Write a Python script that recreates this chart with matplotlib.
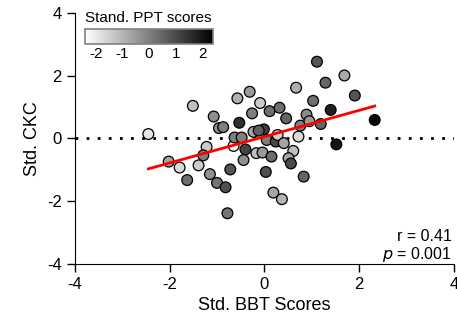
import numpy as np
import matplotlib
matplotlib.use("Agg")
import matplotlib.pyplot as plt
import matplotlib.colors as mcolors
import matplotlib.cm as cm

plt.rcParams['font.family'] = ['Liberation Sans', 'DejaVu Sans']
plt.rcParams['axes.unicode_minus'] = False

# ----------------------------
# Data
# ----------------------------
bbt = [-2.45, -1.51, -2.02, -1.79, -1.63, -1.39, -1.22, -1.29, -1.15, -1.00,
       -0.82, -1.07, -0.96, -0.87, -0.57, -0.31, -0.53, -0.72, -0.78, -0.65,
       -0.63, -0.48, -0.40, -0.44, -0.23, -0.26, -0.09, -0.01, -0.17, -0.04,
       0.03, 0.15, 0.11, 0.32, 0.46, 0.05, 0.24, 0.28, 0.41, 0.61,
       0.51, 0.56, 0.19, 0.37, 0.83, 0.72, 0.67, 0.76, 0.89, 0.95,
       1.03, 1.19, 1.40, 1.11, 1.29, 1.69, 1.91, 1.52, 2.33, -0.12]
ckc = [0.14, 1.04, -0.74, -0.93, -1.33, -0.86, -0.27, -0.54, -1.14, -1.42,
       -1.56, 0.70, 0.33, 0.36, 1.28, 1.49, 0.50, -0.99, -2.39, -0.24,
       0.03, 0.03, -0.35, -0.69, 0.21, 0.80, 1.13, 0.29, -0.47, -0.45,
       -1.07, -0.58, 0.87, 0.98, 0.64, -0.05, -0.10, 0.11, -0.15, -0.40,
       -0.63, -0.80, -1.73, -1.94, -1.22, 0.06, 1.62, 0.41, 0.76, 0.55,
       1.20, 0.46, 0.91, 2.45, 1.78, 2.01, 1.37, -0.19, 0.59, 0.25]
ppt = [-1.9, -1.2, -0.7, -1.7, 0.3, -1.4, -1.4, 0.0, -0.3, 0.2,
       0.9, -0.3, -0.3, 0.0, -0.9, -0.5, 1.5, 0.8, 0.2, -2.2,
       0.0, 0.0, 1.1, -0.3, -0.7, 0.0, -1.4, 1.2, -1.2, -0.5,
       0.9, 0.4, 0.3, 0.3, 0.5, 0.0, 1.0, -1.5, -0.7, -1.2,
       -0.7, 1.0, -0.7, -1.0, 0.5, -1.7, -0.9, 0.0, -0.2, -0.5,
       0.3, 0.5, 1.8, 0.8, 0.5, -0.8, 0.8, 2.0, 2.3, 0.6]

r_text = "r = 0.41"
p_text = "$p$ = 0.001"

# ----------------------------
# Figure
# ----------------------------
fig = plt.figure(figsize=(4.57, 3.29), dpi=100)
ax = fig.add_axes([0.164, 0.1985, 0.829, 0.7615])

norm = mcolors.Normalize(vmin=-2.4, vmax=2.4)
cmap = plt.get_cmap('gray_r')

ax.axhline(0, color='black', linestyle=(0, (1, 3)), linewidth=2, zorder=1)
ax.scatter(bbt, ckc, c=ppt, cmap=cmap, norm=norm, s=60,
           edgecolors='black', linewidths=0.9, zorder=2)

# regression line
slope, intercept = np.polyfit(bbt, ckc, 1)
xs = np.array([min(bbt), max(bbt)])
ax.plot(xs, slope * xs + intercept, color='red', linewidth=2, zorder=3)

ax.set_xlim(-4, 4)
ax.set_ylim(-4, 4)
ax.set_xticks([-4, -2, 0, 2, 4])
ax.set_yticks([-4, -2, 0, 2, 4])
ax.spines['top'].set_visible(False)
ax.spines['right'].set_visible(False)
ax.tick_params(direction='out', length=6, width=1, labelsize=12)
ax.set_xlabel("Std. BBT Scores", fontsize=13)
ax.set_ylabel("Std. CKC", fontsize=13)

ax.text(0.995, 0.09, r_text, transform=ax.transAxes, ha='right',
        va='baseline', fontsize=11.5)
ax.text(0.995, 0.02, p_text, transform=ax.transAxes, ha='right',
        va='baseline', fontsize=11.5)

# colorbar inset
cax = fig.add_axes([85 / 457, 1 - 44 / 329, 128 / 457, 15 / 329])
cb = fig.colorbar(cm.ScalarMappable(norm=norm, cmap=cmap), cax=cax,
                  orientation='horizontal', ticks=[-2, -1, 0, 1, 2])
cb.outline.set_edgecolor('#808080')
cb.outline.set_linewidth(1.2)
cax.tick_params(labelsize=11, length=0, pad=2)
cax.set_xticklabels(['-2', '-1', '0', '1', '2'])
fig.text(85 / 457, 1 - 25 / 329, "Stand. PPT scores", fontsize=11,
         ha='left', va='bottom')

fig.text(13 / 457, 0.991, "B.", fontsize=16, fontweight='bold',
         ha='left', va='bottom')

fig.savefig("out.png", dpi=100)
